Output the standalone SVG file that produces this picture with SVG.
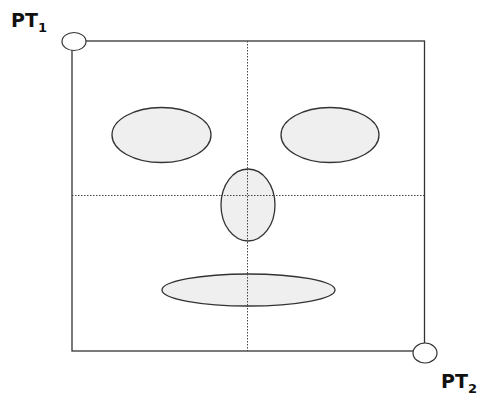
<svg xmlns="http://www.w3.org/2000/svg" width="492" height="396" viewBox="0 0 492 396">
<style>
.frame{fill:none;stroke:#333;stroke-width:1.3}
.guide{fill:none;stroke:#444;stroke-width:1;stroke-dasharray:1.5 1.5}
.feat{fill:#efefef;stroke:#333;stroke-width:1.3}
.pt{fill:#fff;stroke:#333;stroke-width:1.2}
.lbl{font-family:Verdana,"DejaVu Sans",sans-serif;font-weight:bold;font-size:19px;fill:#111}
.sub{font-size:13px}
</style>
<rect width="492" height="396" fill="#fff"/>
<g id="frame"><rect class="frame" x="72" y="41" width="352.5" height="310"/></g>
<g id="connectors">
<line class="guide" x1="247.5" y1="41" x2="247.5" y2="351"/>
<line class="guide" x1="72" y1="195.5" x2="424.5" y2="195.5"/>
</g>
<g id="left-eye"><ellipse class="feat" cx="161.5" cy="135" rx="49.5" ry="27.5"/></g>
<g id="right-eye"><ellipse class="feat" cx="330" cy="135" rx="49" ry="27.5"/></g>
<g id="nose"><ellipse class="feat" cx="248" cy="205" rx="27" ry="36"/></g>
<g id="mouth"><ellipse class="feat" cx="248.5" cy="290" rx="86.5" ry="16"/></g>
<g id="guides-overlay">
<line class="guide" x1="247.5" y1="169" x2="247.5" y2="241"/>
<line class="guide" x1="221" y1="195.5" x2="275" y2="195.5"/>
<line class="guide" x1="247.5" y1="274" x2="247.5" y2="306"/>
</g>
<g id="pt1">
<ellipse class="pt" cx="74" cy="41.5" rx="12" ry="9"/>
<text class="lbl" x="11" y="27">PT<tspan class="sub" dy="5">1</tspan></text>
</g>
<g id="pt2">
<ellipse class="pt" cx="425" cy="353" rx="12" ry="10"/>
<text class="lbl" x="441" y="388">PT<tspan class="sub" dy="5">2</tspan></text>
</g>
</svg>
